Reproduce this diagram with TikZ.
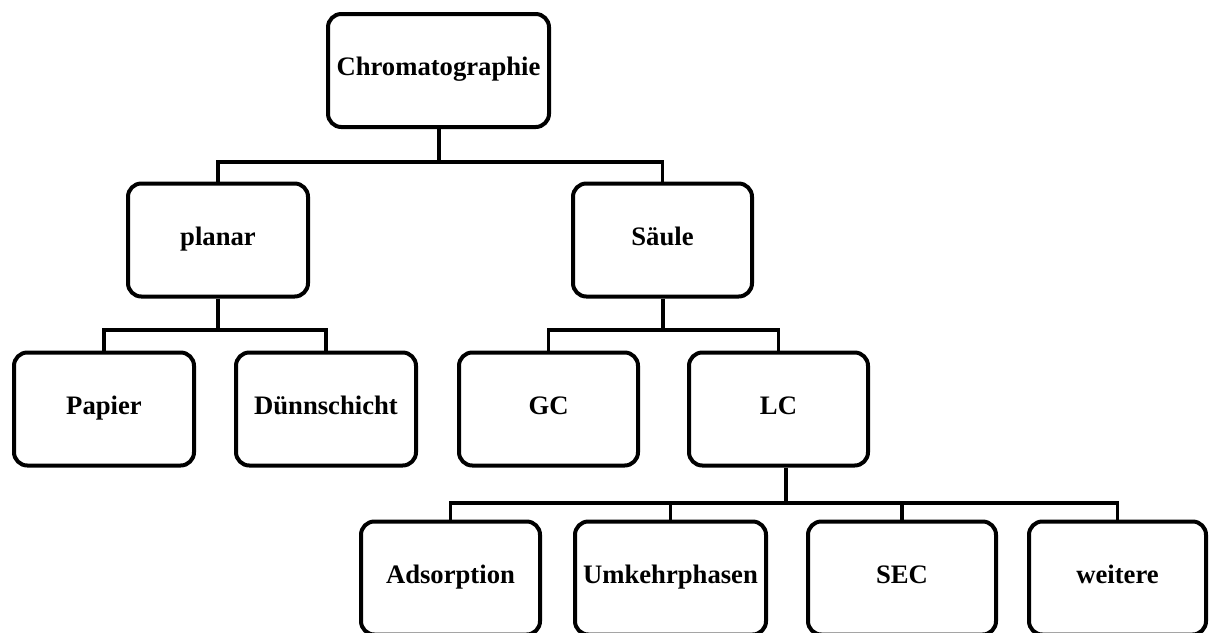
\documentclass[tikz,border=0pt]{standalone}
\usepackage{fontspec}
\setmainfont{Liberation Serif}
\newlength\pxu
\setlength\pxu{0.75pt}
\begin{document}
\begin{tikzpicture}[x=0.75pt,y=-0.75pt,
  box/.style={draw=black,line width=3pt,rounded corners=10pt,fill=white,
    minimum height=113\pxu,inner sep=0pt,text height=0.86em,text depth=0.1em,
    font=\fontsize{20}{24}\selectfont\bfseries},
  stem/.style={line width=3pt},
  bus/.style={line width=2.4pt}]
\useasboundingbox (0,0) rectangle (1209,632);
% bus levels
\coordinate (b1) at (438,162);
\coordinate (b2) at (438,330);
\coordinate (b3) at (438,503);
% nodes
\node[box,minimum width=221\pxu] (chrom) at (438.5,70.5) {Chromatographie};
\node[box,minimum width=180\pxu] (planar) at (218,240) {planar};
\node[box,minimum width=179\pxu] (saule) at (662.5,240) {Säule};
\node[box,minimum width=180\pxu] (papier) at (104,409) {Papier};
\node[box,minimum width=180\pxu] (duenn) at (326,409) {Dünnschicht};
\node[box,minimum width=179\pxu] (gc) at (548.5,409) {GC};
\node[box,minimum width=179\pxu] (lc) at (778.5,409) {LC};
\node[box,minimum width=179\pxu] (ads) at (450.5,578) {Adsorption};
\node[box,minimum width=191\pxu] (umk) at (670.5,578) {Umkehrphasen};
\node[box,minimum width=188\pxu] (sec) at (902,578) {SEC};
\node[box,minimum width=177\pxu] (weit) at (1117.5,578) {weitere};
% connectors level 1
\draw[stem] (chrom.south) -- (chrom.south |- b1);
\draw[bus] (planar.north) |- (saule.north |- b1) -- (saule.north);
% planar
\draw[stem] (planar.south) -- (planar.south |- b2);
\draw[bus] (papier.north) |- (duenn.north |- b2) -- (duenn.north);
% Saeule
\draw[stem] (saule.south) -- (saule.south |- b2);
\draw[bus] (gc.north) |- (lc.north |- b2) -- (lc.north);
% LC
\draw[stem] ([xshift=7\pxu]lc.south) -- ([xshift=7\pxu]lc.south |- b3);
\draw[bus] (ads.north) |- (weit.north |- b3) -- (weit.north);
\draw[bus] (umk.north) -- (umk.north |- b3);
\draw[bus] (sec.north) -- (sec.north |- b3);
\end{tikzpicture}
\end{document}
